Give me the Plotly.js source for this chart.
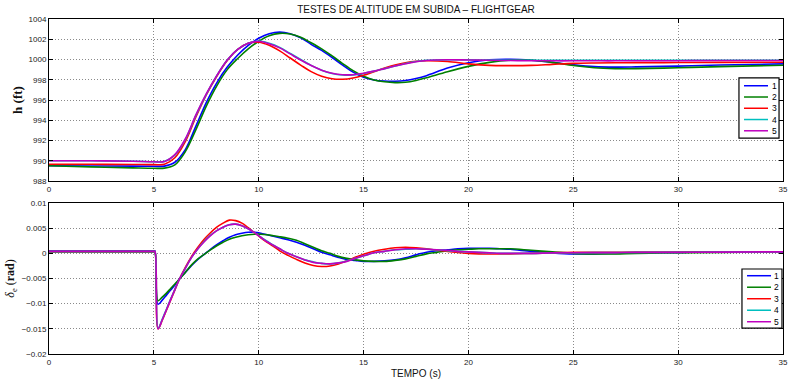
<!DOCTYPE html>
<html>
<head>
<meta charset="utf-8">
<script src="https://cdn.plot.ly/plotly-3.0.1.min.js"></script>
<style>html,body{margin:0;padding:0;background:#fff;}#chart{width:789px;height:380px;}</style>
</head>
<body>
<div id="chart"></div>
<script>
// ---------- data ----------
const SERIES_NAMES = ['1', '2', '3', '4', '5'];
const SERIES_COLORS = ['#0000ff', '#008000', '#ff0000', '#00bfbf', '#bf00bf'];

// altitude h (ft) vs time (s)
const T_H = [0, 2, 4, 5, 5.5, 6, 6.5, 7, 7.5, 8, 8.5, 9, 9.5, 10, 10.5, 11, 11.5, 12, 12.5, 13, 13.5, 14, 14.5, 15, 15.5, 16, 16.5, 17, 17.5, 18, 19, 20, 21, 22, 23, 24, 25, 26, 27, 28, 30, 32, 35];
const H1 = [989.5, 989.48, 989.47, 989.46, 989.47, 989.85, 991.1, 993.4, 995.75, 997.7, 999.25, 1000.45, 1001.4, 1002.1, 1002.55, 1002.7, 1002.55, 1002.15, 1001.5, 1000.9, 1000.2, 999.45, 998.75, 998.25, 997.98, 997.87, 997.85, 997.92, 998.12, 998.4, 999.15, 999.68, 999.97, 1000.02, 999.92, 999.72, 999.48, 999.3, 999.25, 999.27, 999.35, 999.45, 999.57];
const H2 = [989.5, 989.4, 989.3, 989.26, 989.27, 989.6, 990.9, 993.05, 995.4, 997.4, 999.0, 1000.1, 1001.05, 1001.8, 1002.35, 1002.58, 1002.52, 1002.2, 1001.65, 1001.05, 1000.35, 999.6, 998.9, 998.35, 997.98, 997.8, 997.72, 997.75, 997.93, 998.2, 998.8, 999.32, 999.72, 999.93, 999.93, 999.72, 999.4, 999.18, 999.1, 999.1, 999.18, 999.3, 999.43];
const H3 = [989.65, 989.65, 989.63, 989.62, 989.65, 990.3, 991.9, 994.3, 996.5, 998.35, 999.9, 1001.0, 1001.6, 1001.7, 1001.4, 1000.85, 1000.15, 999.45, 998.8, 998.35, 998.1, 998.05, 998.18, 998.45, 998.8, 999.15, 999.45, 999.68, 999.82, 999.87, 999.8, 999.57, 999.42, 999.4, 999.42, 999.52, 999.62, 999.66, 999.68, 999.69, 999.7, 999.72, 999.73];
const H4 = [990.0, 990.0, 989.95, 989.9, 989.93, 990.55, 992.1, 994.45, 996.55, 998.4, 999.95, 1001.0, 1001.6, 1001.82, 1001.6, 1001.2, 1000.6, 1000.0, 999.42, 998.95, 998.62, 998.47, 998.47, 998.62, 998.85, 999.1, 999.35, 999.6, 999.8, 999.92, 999.98, 999.97, 999.95, 999.93, 999.92, 999.92, 999.92, 999.92, 999.92, 999.93, 999.93, 999.93, 999.93];
const H5 = [990.0, 990.0, 989.95, 989.9, 989.92, 990.6, 992.15, 994.5, 996.6, 998.4, 999.95, 1001.0, 1001.6, 1001.8, 1001.55, 1001.15, 1000.55, 999.95, 999.4, 998.95, 998.65, 998.5, 998.5, 998.65, 998.85, 999.1, 999.35, 999.58, 999.78, 999.9, 999.97, 999.95, 999.92, 999.9, 999.88, 999.87, 999.87, 999.87, 999.87, 999.88, 999.88, 999.9, 999.9];

// elevator deflection delta_e (rad) vs time (s)
const T_D = [0, 4, 5.0, 5.05, 5.2, 5.4, 5.6, 5.8, 6.0, 6.2, 6.5, 6.8, 7.1, 7.4, 7.7, 8.0, 8.3, 8.6, 8.9, 9.2, 9.5, 9.8, 10.1, 10.4, 10.7, 11.0, 11.4, 11.8, 12.2, 12.6, 13.0, 13.4, 13.8, 14.2, 14.6, 15.0, 15.5, 16.0, 16.5, 17.0, 17.5, 18.0, 18.5, 19.0, 19.5, 20.0, 20.5, 21.0, 21.5, 22.0, 23, 24, 25, 26, 27, 28, 30, 32, 35];
const D1 = [0.0005, 0.0005, 0.0005, 0.0005, -0.0101, -0.0093, -0.0083, -0.0073, -0.0063, -0.0052, -0.0038, -0.0024, -0.0012, -0.0002, 0.0008, 0.0017, 0.0025, 0.0032, 0.0037, 0.0040, 0.0042, 0.0042, 0.0040, 0.0037, 0.0034, 0.0031, 0.0027, 0.0022, 0.0016, 0.0009, 0.0002, -0.0003, -0.0008, -0.0012, -0.0014, -0.0016, -0.0016, -0.0015, -0.0013, -0.0009, -0.0003, 0.0002, 0.0005, 0.0007, 0.0009, 0.0010, 0.0010, 0.0010, 0.0009, 0.0008, 0.0004, 0.0001, -0.0001, -0.0001, 0.0000, 0.0001, 0.0002, 0.0003, 0.0003];
const D2 = [0.0003, 0.0003, 0.0003, 0.0003, -0.0094, -0.0087, -0.0079, -0.0070, -0.0061, -0.0052, -0.0038, -0.0023, -0.0011, -0.0002, 0.0007, 0.0015, 0.0022, 0.0028, 0.0032, 0.0035, 0.0037, 0.0038, 0.0038, 0.0037, 0.0035, 0.0033, 0.0030, 0.0026, 0.0019, 0.0012, 0.0005, 0.0000, -0.0006, -0.0010, -0.0013, -0.0015, -0.0016, -0.0016, -0.0014, -0.0011, -0.0006, -0.0001, 0.0002, 0.0005, 0.0007, 0.0008, 0.0009, 0.0009, 0.0009, 0.0009, 0.0006, 0.0003, 0.0000, -0.0001, -0.0001, 0.0000, 0.0001, 0.0002, 0.0003];
const D3 = [0.0004, 0.0004, 0.0004, 0.0004, -0.0150, -0.0133, -0.0113, -0.0093, -0.0073, -0.0053, -0.0028, -0.0006, 0.0012, 0.0028, 0.0041, 0.0052, 0.0060, 0.0066, 0.0065, 0.0060, 0.0051, 0.0041, 0.0031, 0.0022, 0.0014, 0.0005, -0.0004, -0.0012, -0.0019, -0.0024, -0.0026, -0.0025, -0.0021, -0.0015, -0.0008, -0.0002, 0.0004, 0.0008, 0.0011, 0.0012, 0.0011, 0.0009, 0.0006, 0.0004, 0.0002, 0.0000, -0.0001, -0.00013, -0.00013, -0.0001, 0.0000, 0.0001, 0.0002, 0.0002, 0.0002, 0.00025, 0.00025, 0.00025, 0.0003];
const D4 = [0.0004, 0.0004, 0.0004, 0.0004, -0.0149, -0.0131, -0.0111, -0.0091, -0.0072, -0.0053, -0.0030, -0.0008, 0.0009, 0.0024, 0.0036, 0.0045, 0.0052, 0.0057, 0.0058, 0.0055, 0.0049, 0.0041, 0.0032, 0.0024, 0.0016, 0.0009, 0.0000, -0.0007, -0.0013, -0.0017, -0.0020, -0.0021, -0.0019, -0.0015, -0.0010, -0.0005, 0.0001, 0.0004, 0.0007, 0.0008, 0.0009, 0.0008, 0.0007, 0.0005, 0.0004, 0.0003, 0.0002, 0.0001, 0.0000, 0.0000, 0.0000, 0.0001, 0.00013, 0.00015, 0.00015, 0.0002, 0.0002, 0.00025, 0.0003];
const D5 = [0.0004, 0.0004, 0.0004, 0.0004, -0.0150, -0.0132, -0.0112, -0.0092, -0.0072, -0.0053, -0.0030, -0.0008, 0.0009, 0.0023, 0.0035, 0.0045, 0.0052, 0.0057, 0.0058, 0.0055, 0.0049, 0.0041, 0.0032, 0.0023, 0.0016, 0.0009, 0.0000, -0.0007, -0.0013, -0.0018, -0.0020, -0.0021, -0.0019, -0.0016, -0.0010, -0.0005, 0.0001, 0.0004, 0.0007, 0.0009, 0.0009, 0.0008, 0.0007, 0.0006, 0.0004, 0.0003, 0.0002, 0.0001, 0.0000, 0.0000, 0.0000, 0.0001, 0.00013, 0.00015, 0.00015, 0.0002, 0.0002, 0.00025, 0.0003];

const X_TICKS = [0, 5, 10, 15, 20, 25, 30, 35];
const H_TICKS = [988, 990, 992, 994, 996, 998, 1000, 1002, 1004];
const D_TICKS = [-0.02, -0.015, -0.01, -0.005, 0, 0.005, 0.01];

// ---------- traces ----------
const H_SERIES = [H1, H2, H3, H4, H5];
const D_SERIES = [D1, D2, D3, D4, D5];
const traces = [];
H_SERIES.forEach((ys, i) => traces.push({
  x: T_H, y: ys, name: SERIES_NAMES[i], type: 'scatter', mode: 'lines',
  line: {color: SERIES_COLORS[i], width: 1.6, shape: 'spline', smoothing: 1},
  xaxis: 'x', yaxis: 'y', showlegend: false, hoverinfo: 'skip'
}));
D_SERIES.forEach((ys, i) => traces.push({
  x: T_D, y: ys, name: SERIES_NAMES[i], type: 'scatter', mode: 'lines',
  line: {color: SERIES_COLORS[i], width: 1.6, shape: 'spline', smoothing: 1},
  xaxis: 'x2', yaxis: 'y2', showlegend: false, hoverinfo: 'skip'
}));

// ---------- layout ----------
const tickFont = {family: 'Liberation Sans, Arial, sans-serif', size: 8, color: '#222'};
function axisBase(extra) {
  return Object.assign({
    showline: true, linecolor: '#000', linewidth: 1, mirror: 'allticks',
    ticks: 'inside', ticklen: 4, tickcolor: '#000', tickwidth: 1,
    showgrid: true, gridcolor: '#8a8a8a', gridwidth: 1, griddash: '1px,2px',
    zeroline: false, tickfont: tickFont, automargin: false, fixedrange: true
  }, extra);
}

const shapes = [];
const annotations = [];
function addLegend(xr, yr, g) {
  shapes.push({type: 'rect', xref: xr, yref: yr, x0: g.x0, x1: g.x1, y0: g.y0, y1: g.y1,
    fillcolor: '#ffffff', line: {color: '#000', width: 1.2}, layer: 'above'});
  SERIES_NAMES.forEach((nm, i) => {
    const yy = g.ty0 - i * g.dy;
    shapes.push({type: 'line', xref: xr, yref: yr, x0: g.lx0, x1: g.lx1, y0: yy, y1: yy,
      line: {color: SERIES_COLORS[i], width: 1.5}, layer: 'above'});
    annotations.push({xref: xr, yref: yr, x: g.tx, y: yy, text: nm, showarrow: false,
      xanchor: 'left', yanchor: 'middle', borderpad: 0,
      font: {family: 'Liberation Sans, Arial, sans-serif', size: 8.5, color: '#000'}});
  });
}
addLegend('x domain', 'y domain', {x0: 0.940, x1: 0.9946, y0: 0.265, y1: 0.636, lx0: 0.9469, lx1: 0.9796, tx: 0.9830, ty0: 0.588, dy: 0.0695});
addLegend('x2 domain', 'y2 domain', {x0: 0.9441, x1: 0.9986, y0: 0.172, y1: 0.563, lx0: 0.951, lx1: 0.9837, tx: 0.9870, ty0: 0.5185, dy: 0.0762});

const layout = {
  width: 789, height: 380,
  margin: {l: 49, r: 6, t: 19, b: 26, pad: 0},
  paper_bgcolor: '#fff', plot_bgcolor: '#fff',
  showlegend: false,
  title: {text: 'TESTES DE ALTITUDE EM SUBIDA – FLIGHTGEAR',
    font: {family: 'Liberation Sans, Arial, sans-serif', size: 10, color: '#111'},
    xref: 'paper', x: 0.5, xanchor: 'center', yref: 'container', y: 0.974, yanchor: 'middle'},
  xaxis: axisBase({domain: [0, 1], range: [0, 35], tickvals: X_TICKS, anchor: 'y'}),
  yaxis: axisBase({domain: [0.5164, 1], range: [988, 1004], tickvals: H_TICKS, anchor: 'x',
    title: {text: '<b>h (ft)</b>', standoff: 3,
      font: {family: 'Liberation Serif, DejaVu Serif, serif', size: 13, color: '#111'}}}),
  xaxis2: axisBase({domain: [0, 1], range: [0, 35], tickvals: X_TICKS, anchor: 'y2',
    title: {text: 'TEMPO (s)', standoff: 4,
      font: {family: 'Liberation Sans, Arial, sans-serif', size: 10, color: '#111'}}}),
  yaxis2: axisBase({domain: [0, 0.4507], range: [-0.02, 0.01], tickvals: D_TICKS, anchor: 'x2',
    title: {text: '<i>δ</i><sub>e</sub> (<b>rad</b>)', standoff: 4,
      font: {family: 'Liberation Serif, DejaVu Serif, serif', size: 12, color: '#111'}}}),
  shapes: shapes,
  annotations: annotations
};

Plotly.newPlot('chart', traces, layout, {displayModeBar: false, staticPlot: true});
</script>
</body>
</html>
